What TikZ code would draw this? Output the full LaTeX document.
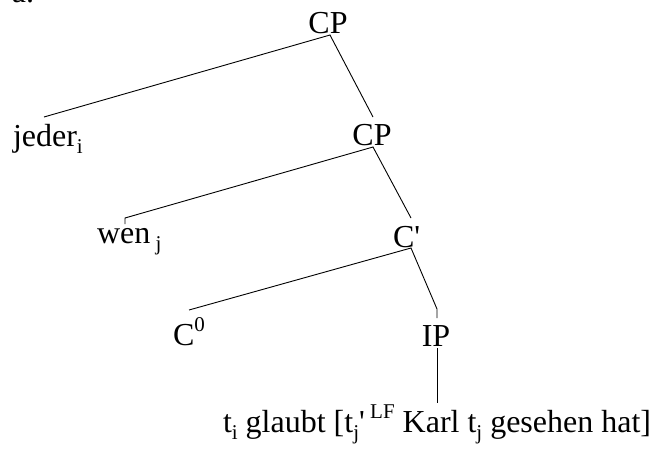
\documentclass[tikz,border=0pt]{standalone}
\usepackage{fontspec}
\setmainfont{Liberation Serif}
\newcommand{\lsub}[1]{\raisebox{-0.22em}{\fontsize{21}{21}\selectfont #1}}
\newcommand{\lsup}[1]{\raisebox{0.42em}{\fontsize{21}{21}\selectfont #1}}
\begin{document}
\begin{tikzpicture}[x=1pt,y=-1pt,
  lbl/.style={inner sep=0pt,outer sep=0pt,font=\fontsize{32}{38}\selectfont},
  branch/.style={line width=0.9pt,black}]
\useasboundingbox (0,0) rectangle (654,450);
% labels
\node[lbl,anchor=base west] (a) at (12,2) {a.};
\node[lbl,anchor=base] (cp1) at (328,33) {CP};
\node[lbl,anchor=base west] (jeder) at (13,146) {jeder\lsub{i}};
\node[lbl,anchor=base] (cp2) at (372,145) {CP};
\node[lbl,anchor=base west] (wen) at (97,243) {wen\,\lsub{j}};
\node[lbl,anchor=base west] (cbar) at (393,247) {C\textquotesingle};
\node[lbl,anchor=base west] (c0) at (173,345) {C\lsup{0}};
\node[lbl,anchor=base] (ip) at (436,346) {IP};
\node[lbl,anchor=base west] (ipt) at (223,432) {t\lsub{i} glaubt [t\lsub{j}\textquotesingle\,\lsup{LF} Karl t\lsub{j} gesehen hat]};
% branch points
\coordinate (cp1b) at (330,35);
\coordinate (jedert) at (44,117);
\coordinate (cp2t) at (373,117);
\coordinate (cp2b) at (373,147);
\coordinate (went) at (125,218);
\coordinate (wenk) at (125,224);
\coordinate (cbart) at (411,218);
\coordinate (cbarb) at (411,248);
\coordinate (c0t) at (189,310);
\coordinate (ipt1) at (437,309);
\coordinate (ipt2) at (437,318);
\coordinate (ipb) at (437,348);
\coordinate (iptt) at (437,403);
% branches
\draw[branch] (jedert) -- (cp1b) -- (cp2t);
\draw[branch] (wenk) -- (went) -- (cp2b) -- (cbart);
\draw[branch] (c0t) -- (cbarb) -- (ipt1) -- (ipt2);
\draw[branch] (ipb) -- (iptt);
\end{tikzpicture}
\end{document}
